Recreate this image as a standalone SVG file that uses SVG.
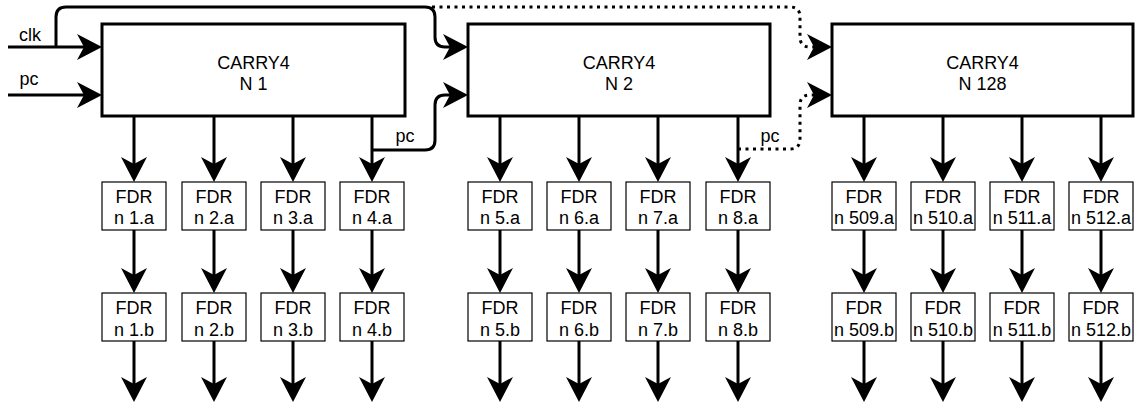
<svg xmlns="http://www.w3.org/2000/svg" width="1136" height="404" viewBox="0 0 1136 404">
<style>
.big{fill:#fff;stroke:#000;stroke-width:3}
.fdr{fill:#fff;stroke:#000;stroke-width:1.2}
.t{font-family:"Liberation Sans",Arial,Helvetica,sans-serif;font-size:18px;fill:#000;text-anchor:middle}
.w{fill:none;stroke:#000;stroke-width:3}
.dot{stroke-dasharray:3 4.5}
</style>
<defs>
<marker id="ah" markerUnits="userSpaceOnUse" viewBox="0 0 25 26" refX="7" refY="13" markerWidth="25" markerHeight="26" orient="auto">
<path d="M0,0 L25,13 L0,26 L7,13 Z" fill="#000"/>
</marker>
</defs>
<g id="connectors">
<path class="w" d="M8 47 H84" marker-end="url(#ah)"/>
<path class="w" d="M8 95 H84" marker-end="url(#ah)"/>
<path class="w" d="M56 47 V17 Q56 7 66 7 H425 Q435 7 435 17 V37 Q435 47 445 47 H450" marker-end="url(#ah)"/>
<path class="w dot" d="M432 7 H790 Q800 7 800 17 V37 Q800 47 810 47 H813"/>
<path d="M813 47 L814 47" class="w" marker-end="url(#ah)"/>
<path class="w" d="M373 150 H425 Q435 150 435 140 V105 Q435 95 445 95 H450" marker-end="url(#ah)"/>
<path class="w dot" d="M738 149 H790 Q800 149 800 139 V105 Q800 95 810 95 H813"/>
<path d="M813 95 L814 95" class="w" marker-end="url(#ah)"/>
<g id="outs">
<path class="w" d="M134 117 V164" marker-end="url(#ah)"/>
<path class="w" d="M214 117 V164" marker-end="url(#ah)"/>
<path class="w" d="M293 117 V164" marker-end="url(#ah)"/>
<path class="w" d="M372 117 V164" marker-end="url(#ah)"/>
<path class="w" d="M500 117 V164" marker-end="url(#ah)"/>
<path class="w" d="M579 117 V164" marker-end="url(#ah)"/>
<path class="w" d="M658 117 V164" marker-end="url(#ah)"/>
<path class="w" d="M738 117 V164" marker-end="url(#ah)"/>
<path class="w" d="M864 117 V164" marker-end="url(#ah)"/>
<path class="w" d="M943 117 V164" marker-end="url(#ah)"/>
<path class="w" d="M1022 117 V164" marker-end="url(#ah)"/>
<path class="w" d="M1101 117 V164" marker-end="url(#ah)"/>
</g>
<g id="mids">
<path class="w" d="M134 230 V275" marker-end="url(#ah)"/>
<path class="w" d="M214 230 V275" marker-end="url(#ah)"/>
<path class="w" d="M293 230 V275" marker-end="url(#ah)"/>
<path class="w" d="M372 230 V275" marker-end="url(#ah)"/>
<path class="w" d="M500 230 V275" marker-end="url(#ah)"/>
<path class="w" d="M579 230 V275" marker-end="url(#ah)"/>
<path class="w" d="M658 230 V275" marker-end="url(#ah)"/>
<path class="w" d="M738 230 V275" marker-end="url(#ah)"/>
<path class="w" d="M864 230 V275" marker-end="url(#ah)"/>
<path class="w" d="M943 230 V275" marker-end="url(#ah)"/>
<path class="w" d="M1022 230 V275" marker-end="url(#ah)"/>
<path class="w" d="M1101 230 V275" marker-end="url(#ah)"/>
</g>
<g id="bottoms">
<path class="w" d="M134 341 V384" marker-end="url(#ah)"/>
<path class="w" d="M214 341 V384" marker-end="url(#ah)"/>
<path class="w" d="M293 341 V384" marker-end="url(#ah)"/>
<path class="w" d="M372 341 V384" marker-end="url(#ah)"/>
<path class="w" d="M500 341 V384" marker-end="url(#ah)"/>
<path class="w" d="M579 341 V384" marker-end="url(#ah)"/>
<path class="w" d="M658 341 V384" marker-end="url(#ah)"/>
<path class="w" d="M738 341 V384" marker-end="url(#ah)"/>
<path class="w" d="M864 341 V384" marker-end="url(#ah)"/>
<path class="w" d="M943 341 V384" marker-end="url(#ah)"/>
<path class="w" d="M1022 341 V384" marker-end="url(#ah)"/>
<path class="w" d="M1101 341 V384" marker-end="url(#ah)"/>
</g>
<text class="t" x="30" y="40.7">clk</text>
<text class="t" x="29" y="84.5">pc</text>
<text class="t" x="405" y="141.5">pc</text>
<text class="t" x="770" y="141.5">pc</text>
</g>
<g id="carry1"><rect class="big" x="102" y="24" width="303" height="92"/><text class="t" x="253.5" y="68.5">CARRY4</text><text class="t" x="253.5" y="90">N 1</text></g>
<g id="carry2"><rect class="big" x="468" y="24" width="302" height="92"/><text class="t" x="619" y="68.5">CARRY4</text><text class="t" x="619" y="90">N 2</text></g>
<g id="carry128"><rect class="big" x="832" y="24" width="301" height="92"/><text class="t" x="982.5" y="68.5">CARRY4</text><text class="t" x="982.5" y="90">N 128</text></g>
<g id="fdr1a"><rect class="fdr" x="102" y="182" width="64" height="48"/><text class="t" x="134" y="202.5">FDR</text><text class="t" x="134" y="224">n 1.a</text></g>
<g id="fdr2a"><rect class="fdr" x="182" y="182" width="64" height="48"/><text class="t" x="214" y="202.5">FDR</text><text class="t" x="214" y="224">n 2.a</text></g>
<g id="fdr3a"><rect class="fdr" x="261" y="182" width="64" height="48"/><text class="t" x="293" y="202.5">FDR</text><text class="t" x="293" y="224">n 3.a</text></g>
<g id="fdr4a"><rect class="fdr" x="340" y="182" width="64" height="48"/><text class="t" x="372" y="202.5">FDR</text><text class="t" x="372" y="224">n 4.a</text></g>
<g id="fdr5a"><rect class="fdr" x="468" y="182" width="64" height="48"/><text class="t" x="500" y="202.5">FDR</text><text class="t" x="500" y="224">n 5.a</text></g>
<g id="fdr6a"><rect class="fdr" x="547" y="182" width="64" height="48"/><text class="t" x="579" y="202.5">FDR</text><text class="t" x="579" y="224">n 6.a</text></g>
<g id="fdr7a"><rect class="fdr" x="626" y="182" width="64" height="48"/><text class="t" x="658" y="202.5">FDR</text><text class="t" x="658" y="224">n 7.a</text></g>
<g id="fdr8a"><rect class="fdr" x="706" y="182" width="64" height="48"/><text class="t" x="738" y="202.5">FDR</text><text class="t" x="738" y="224">n 8.a</text></g>
<g id="fdr509a"><rect class="fdr" x="832" y="182" width="64" height="48"/><text class="t" x="864" y="202.5">FDR</text><text class="t" x="864" y="224">n 509.a</text></g>
<g id="fdr510a"><rect class="fdr" x="911" y="182" width="64" height="48"/><text class="t" x="943" y="202.5">FDR</text><text class="t" x="943" y="224">n 510.a</text></g>
<g id="fdr511a"><rect class="fdr" x="990" y="182" width="64" height="48"/><text class="t" x="1022" y="202.5">FDR</text><text class="t" x="1022" y="224">n 511.a</text></g>
<g id="fdr512a"><rect class="fdr" x="1069" y="182" width="64" height="48"/><text class="t" x="1101" y="202.5">FDR</text><text class="t" x="1101" y="224">n 512.a</text></g>
<g id="fdr1b"><rect class="fdr" x="102" y="293" width="64" height="48"/><text class="t" x="134" y="313.5">FDR</text><text class="t" x="134" y="335.5">n 1.b</text></g>
<g id="fdr2b"><rect class="fdr" x="182" y="293" width="64" height="48"/><text class="t" x="214" y="313.5">FDR</text><text class="t" x="214" y="335.5">n 2.b</text></g>
<g id="fdr3b"><rect class="fdr" x="261" y="293" width="64" height="48"/><text class="t" x="293" y="313.5">FDR</text><text class="t" x="293" y="335.5">n 3.b</text></g>
<g id="fdr4b"><rect class="fdr" x="340" y="293" width="64" height="48"/><text class="t" x="372" y="313.5">FDR</text><text class="t" x="372" y="335.5">n 4.b</text></g>
<g id="fdr5b"><rect class="fdr" x="468" y="293" width="64" height="48"/><text class="t" x="500" y="313.5">FDR</text><text class="t" x="500" y="335.5">n 5.b</text></g>
<g id="fdr6b"><rect class="fdr" x="547" y="293" width="64" height="48"/><text class="t" x="579" y="313.5">FDR</text><text class="t" x="579" y="335.5">n 6.b</text></g>
<g id="fdr7b"><rect class="fdr" x="626" y="293" width="64" height="48"/><text class="t" x="658" y="313.5">FDR</text><text class="t" x="658" y="335.5">n 7.b</text></g>
<g id="fdr8b"><rect class="fdr" x="706" y="293" width="64" height="48"/><text class="t" x="738" y="313.5">FDR</text><text class="t" x="738" y="335.5">n 8.b</text></g>
<g id="fdr509b"><rect class="fdr" x="832" y="293" width="64" height="48"/><text class="t" x="864" y="313.5">FDR</text><text class="t" x="864" y="335.5">n 509.b</text></g>
<g id="fdr510b"><rect class="fdr" x="911" y="293" width="64" height="48"/><text class="t" x="943" y="313.5">FDR</text><text class="t" x="943" y="335.5">n 510.b</text></g>
<g id="fdr511b"><rect class="fdr" x="990" y="293" width="64" height="48"/><text class="t" x="1022" y="313.5">FDR</text><text class="t" x="1022" y="335.5">n 511.b</text></g>
<g id="fdr512b"><rect class="fdr" x="1069" y="293" width="64" height="48"/><text class="t" x="1101" y="313.5">FDR</text><text class="t" x="1101" y="335.5">n 512.b</text></g>
</svg>
